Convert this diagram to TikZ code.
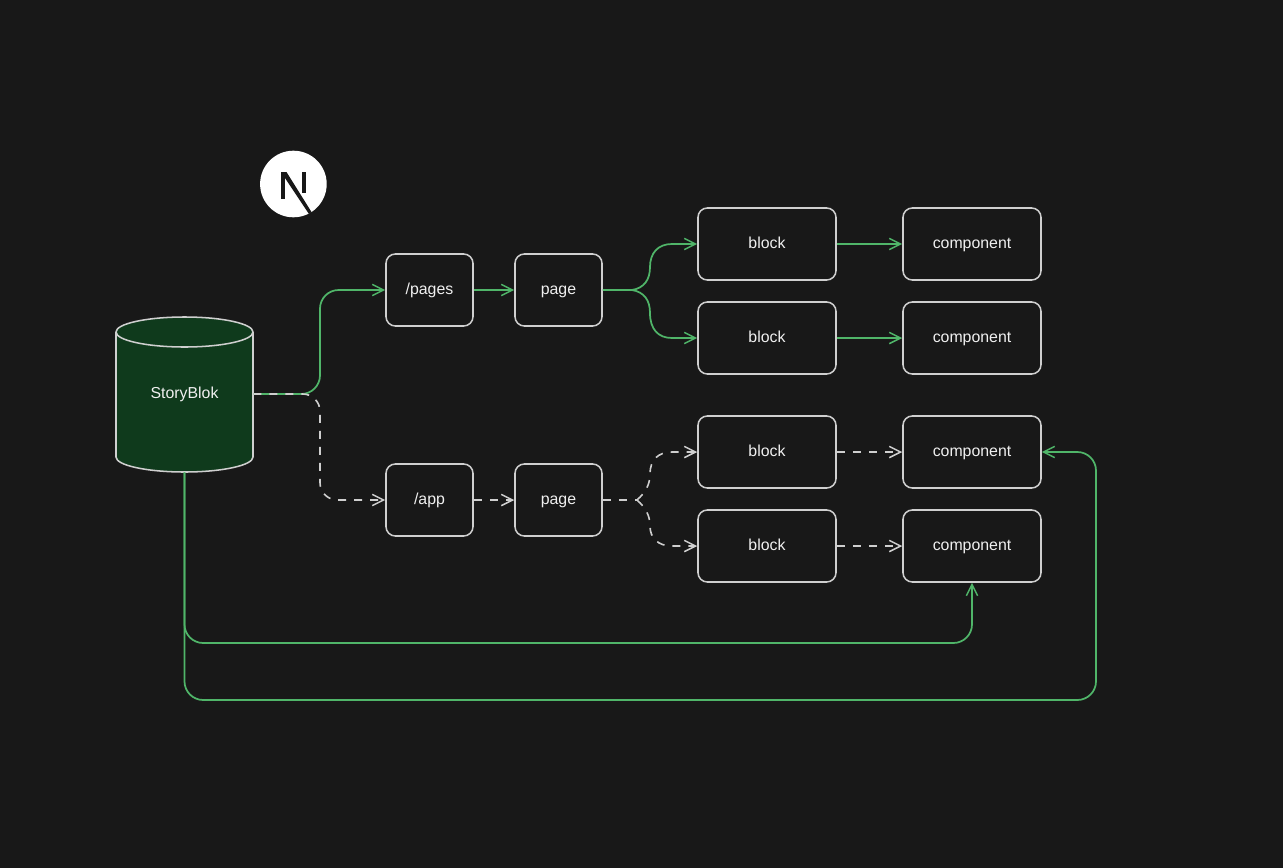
\documentclass[tikz,border=0pt]{standalone}
\usepackage{fontspec}
\setmainfont{Liberation Sans}
\usetikzlibrary{arrows.meta}
\definecolor{bgc}{HTML}{181818}
\definecolor{strokec}{HTML}{CFCFCF}
\definecolor{greenc}{HTML}{50B569}
\definecolor{dbfill}{HTML}{0F3A1C}
\begin{document}
\begin{tikzpicture}[x=0.75pt,y=-0.75pt,
  every node/.append style={font=\fontsize{11.9pt}{13pt}\selectfont,text=white!94!black,text height=9pt,text depth=2pt},
  boxnode/.style={draw=strokec,line width=1.15pt,rounded corners=7pt,fill=bgc,inner sep=0pt},
  smallbox/.style={boxnode,minimum width=65.25pt,minimum height=54pt},
  widebox/.style={boxnode,minimum width=103.5pt,minimum height=54pt},
  tip/.style={-{Straight Barb[length=8.5pt,width=8.5pt,line width=1.1pt]}},
  greenline/.style={draw=greenc,line width=1.3pt,rounded corners=14pt,tip},
  dashline/.style={draw=strokec,line width=1.2pt,rounded corners=13pt,dash pattern=on 6pt off 6pt,tip},
  plainend/.style={draw=strokec,line width=1.2pt,dash pattern=on 6pt off 6pt},
]
\useasboundingbox (0,0) rectangle (1283,868);
\fill[bgc] (0,0) rectangle (1283,868);

% database
\path[draw=strokec,line width=1.15pt,fill=dbfill]
  (116,332) -- (116,457) arc[start angle=180,end angle=0,x radius=68.5,y radius=15]
  -- (253,332) arc[start angle=0,end angle=-180,x radius=68.5,y radius=15] -- cycle;
\path[draw=strokec,line width=1.15pt]
  (116,332) arc[start angle=180,end angle=0,x radius=68.5,y radius=15];
\node[minimum width=102.75pt,minimum height=117pt,inner sep=0pt] (db) at (184.5,394) {};
\node[inner sep=0pt] (dblabel) at (184.5,394) {StoryBlok};

% logo
\fill[white] (293.4,184) circle[radius=33.3];
\fill[bgc] (281,172) rectangle (285,199);
\fill[bgc] (302,172) rectangle (306,193);
\fill[bgc] (281,172) -- (286.5,172) -- (311.5,212) -- (309,214) -- cycle;

% boxes
\node[smallbox] (pages) at (429.5,290) {/pages};
\node[smallbox] (pageA) at (558.5,290) {page};
\node[widebox] (blockA) at (767,244) {block};
\node[widebox] (blockB) at (767,338) {block};
\node[widebox] (compA) at (972,244) {component};
\node[widebox] (compB) at (972,338) {component};
\node[smallbox] (app) at (429.5,500) {/app};
\node[smallbox] (pageB) at (558.5,500) {page};
\node[widebox] (blockC) at (767,452) {block};
\node[widebox] (blockD) at (767,546) {block};
\node[widebox] (compC) at (972,452) {component};
\node[widebox] (compD) at (972,546) {component};

% routing coordinates
\coordinate (busDbUp) at (320,340);
\coordinate (busDbDown) at (320,450);
\coordinate (forkA) at (632,290);
\coordinate (greenUp) at (650,267);
\coordinate (greenDown) at (650,313);
\coordinate (greenBendUp) at (672,244);
\coordinate (greenBendDown) at (672,338);
\coordinate (forkB) at (637,500);
\coordinate (busUp) at (650,474);
\coordinate (busDown) at (650,526);
\coordinate (bendUp) at (672,452);
\coordinate (bendDown) at (672,546);
\coordinate (lowOne) at (600,643);
\coordinate (lowTwo) at (600,700);
\coordinate (rightRail) at (1096,600);

% green connectors
\draw[greenline] (db.east) -| (busDbUp) |- (pages.west);
\draw[greenline] (pages.east) -- (pageA.west);
\draw[greenline,rounded corners=0pt] (pageA.east) -- (forkA) .. controls (644,288) and (650,280) .. (greenUp)
  .. controls (650,253) and (658,244) .. (greenBendUp) -- (blockA.west);
\draw[greenline,rounded corners=0pt] (pageA.east) -- (forkA) .. controls (644,292) and (650,300) .. (greenDown)
  .. controls (650,329) and (658,338) .. (greenBendDown) -- (blockB.west);
\draw[greenline] (blockA.east) -- (compA.west);
\draw[greenline] (blockB.east) -- (compB.west);
\draw[greenline] (db.south) |- (lowOne) -| (compD.south);
\draw[greenline] (db.south) |- (lowTwo) -| (rightRail) |- (compC.east);

% dashed connectors
\draw[dashline] (db.east) -| (busDbDown) |- (app.west);
\draw[dashline] (app.east) -- (pageB.west);
\draw[plainend] (pageB.east) -- (forkB);
\draw[dashline,rounded corners=0pt] (forkB) .. controls (646,492) and (650,484) .. (busUp)
  .. controls (650,460) and (658,452) .. (bendUp) -- (blockC.west);
\draw[dashline,rounded corners=0pt] (forkB) .. controls (646,508) and (650,516) .. (busDown)
  .. controls (650,538) and (658,546) .. (bendDown) -- (blockD.west);
\draw[dashline] (blockC.east) -- (compC.west);
\draw[dashline] (blockD.east) -- (compD.west);
\end{tikzpicture}
\end{document}
